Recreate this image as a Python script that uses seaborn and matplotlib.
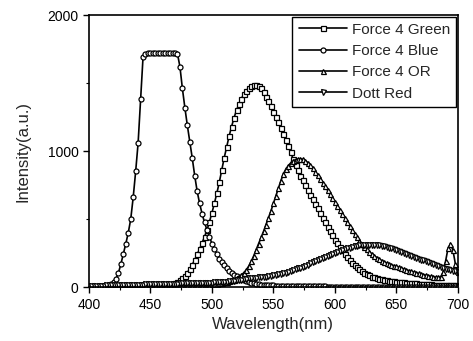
import numpy as np
import pandas as pd
import matplotlib
matplotlib.use("Agg")
import matplotlib.pyplot as plt
import seaborn as sns
from matplotlib.ticker import MultipleLocator

# emission spectra, sampled every 2 nm from 400 to 700 nm
wavelength = np.arange(400, 701, 2)

force4_green = [
    2, 2, 2, 3, 3, 3, 3, 3, 4, 4,
    4, 4, 4, 5, 5, 5, 5, 6, 6, 6,
    6, 6, 7, 7, 7, 7, 8, 8, 8, 9,
    10, 12, 14, 17, 22, 29, 38, 50, 66, 85,
    105, 135, 165, 200, 240, 280, 325, 370, 420, 480,
    545, 615, 690, 770, 860, 950, 1030, 1110, 1180, 1245,
    1300, 1345, 1385, 1420, 1445, 1465, 1478, 1485, 1485, 1475,
    1460, 1432, 1400, 1365, 1328, 1290, 1250, 1210, 1168, 1125,
    1080, 1035, 990, 945, 900, 860, 820, 785, 750, 715,
    680, 645, 610, 580, 545, 510, 475, 440, 410, 380,
    350, 322, 295, 270, 245, 222, 200, 180, 162, 145,
    130, 118, 106, 96, 86, 78, 72, 66, 62, 58,
    54, 51, 48, 45, 43, 41, 39, 37, 35, 33,
    31, 30, 28, 27, 26, 24, 23, 22, 21, 20,
    19, 18, 17, 16, 15, 14, 13, 13, 12, 12,
    11,
]

force4_blue = [
    0, 1, 2, 3, 4, 6, 8, 11, 16, 24,
    36, 60, 105, 170, 245, 320, 400, 500, 660, 850,
    1060, 1380, 1690, 1715, 1720, 1718, 1722, 1720, 1718, 1722,
    1720, 1718, 1720, 1722, 1720, 1718, 1715, 1620, 1460, 1320,
    1190, 1070, 950, 820, 705, 615, 540, 475, 420, 370,
    320, 278, 240, 208, 182, 160, 140, 122, 106, 92,
    80, 68, 58, 50, 42, 36, 31, 27, 24, 21,
    19, 17, 15, 14, 13, 12, 11, 10, 10, 9,
    9, 8, 8, 8, 7, 7, 7, 6, 6, 6,
    6, 5, 5, 5, 5, 5, 5, 4, 4, 4,
    4, 4, 4, 4, 4, 4, 4, 4, 4, 4,
    3, 3, 3, 3, 3, 3, 3, 3, 3, 3,
    3, 3, 3, 3, 3, 3, 3, 3, 3, 3,
    2, 2, 2, 2, 2, 2, 2, 2, 2, 2,
    2, 2, 2, 2, 2, 2, 2, 2, 2, 2,
    2,
]

force4_or = [
    3, 3, 3, 4, 4, 4, 4, 5, 5, 5,
    5, 5, 6, 6, 6, 6, 7, 7, 7, 7,
    8, 8, 8, 8, 9, 9, 9, 9, 10, 10,
    10, 10, 11, 11, 11, 12, 12, 12, 13, 13,
    13, 14, 14, 15, 15, 16, 16, 17, 18, 19,
    20, 22, 24, 27, 30, 34, 38, 43, 49, 56,
    64, 76, 90, 106, 128, 155, 190, 230, 275, 320,
    365, 410, 460, 510, 560, 615, 670, 725, 780, 830,
    865, 892, 912, 927, 937, 942, 944, 940, 930, 915,
    895, 872, 848, 822, 795, 768, 740, 712, 683, 655,
    627, 598, 568, 538, 508, 478, 448, 418, 390, 365,
    340, 318, 297, 278, 260, 245, 230, 217, 205, 195,
    186, 178, 171, 164, 158, 152, 146, 140, 134, 128,
    122, 116, 111, 106, 101, 96, 92, 88, 84, 80,
    77, 74, 72, 75, 110, 190, 285, 320, 270, 170,
    110,
]

dott_red = [
    8, 9, 9, 10, 10, 11, 11, 12, 12, 13,
    13, 14, 14, 15, 15, 16, 16, 17, 17, 18,
    18, 19, 19, 20, 20, 21, 21, 22, 22, 23,
    23, 24, 24, 25, 25, 26, 26, 27, 27, 28,
    28, 29, 29, 30, 30, 31, 31, 32, 32, 33,
    33, 34, 35, 36, 37, 38, 40, 42, 44, 47,
    50, 53, 56, 59, 62, 64, 66, 68, 70, 72,
    74, 76, 78, 80, 83, 86, 89, 93, 97, 102,
    107, 112, 118, 124, 130, 137, 144, 151, 158, 166,
    174, 182, 190, 198, 206, 214, 222, 230, 238, 246,
    253, 260, 267, 274, 280, 286, 291, 296, 300, 304,
    307, 309, 311, 312, 312, 312, 311, 309, 307, 304,
    300, 296, 291, 286, 280, 274, 267, 260, 253, 246,
    238, 231, 224, 217, 210, 203, 196, 189, 182, 175,
    168, 161, 154, 148, 142, 136, 130, 125, 120, 116,
    112,
]

series_names = ["Force 4 Green", "Force 4 Blue", "Force 4 OR", "Dott Red"]
series_markers = ["s", "o", "^", "v"]

df = pd.DataFrame({
    "wavelength": np.tile(wavelength, 4),
    "intensity": np.concatenate([force4_green, force4_blue, force4_or, dott_red]),
    "series": np.repeat(series_names, len(wavelength)),
})

sns.set_style("ticks")
plt.rcParams["font.family"] = ["Liberation Sans", "DejaVu Sans"]
plt.rcParams["axes.edgecolor"] = "black"
plt.rcParams["xtick.color"] = "black"
plt.rcParams["ytick.color"] = "black"

fig, ax = plt.subplots(figsize=(4.73, 3.41), dpi=100)
fig.subplots_adjust(left=0.188, right=0.968, top=0.956, bottom=0.158)

sns.lineplot(
    data=df, x="wavelength", y="intensity", hue="series", style="series",
    hue_order=series_names, style_order=series_names,
    palette={name: "black" for name in series_names},
    markers=dict(zip(series_names, series_markers)), dashes=False,
    errorbar=None, linewidth=1.2, markersize=3.6, markeredgewidth=0.9,
    markeredgecolor="black", markerfacecolor="white",
    legend=False, ax=ax,
)

ax.set_xlim(400, 700)
ax.set_ylim(0, 2000)
ax.xaxis.set_major_locator(MultipleLocator(50))
ax.xaxis.set_minor_locator(MultipleLocator(25))
ax.yaxis.set_major_locator(MultipleLocator(1000))
ax.yaxis.set_minor_locator(MultipleLocator(500))
ax.tick_params(which="major", direction="out", length=4, width=1, labelsize=10)
ax.tick_params(which="minor", direction="out", length=2, width=0.8)
for spine in ax.spines.values():
    spine.set_linewidth(1.2)

ax.set_xlabel("Wavelength(nm)", fontsize=12)
ax.set_ylabel("Intensity(a.u.)", fontsize=12, labelpad=12)

leg = ax.legend(
    handles=ax.lines[:4], labels=series_names, loc="upper right",
    fontsize=11, frameon=True, fancybox=False, framealpha=1,
    edgecolor="black", handlelength=3.2, handletextpad=0.3,
    labelspacing=0.48, borderpad=0.4, borderaxespad=0.1, numpoints=1,
)
leg.get_frame().set_linewidth(1.0)

fig.savefig("out.png", dpi=100)
